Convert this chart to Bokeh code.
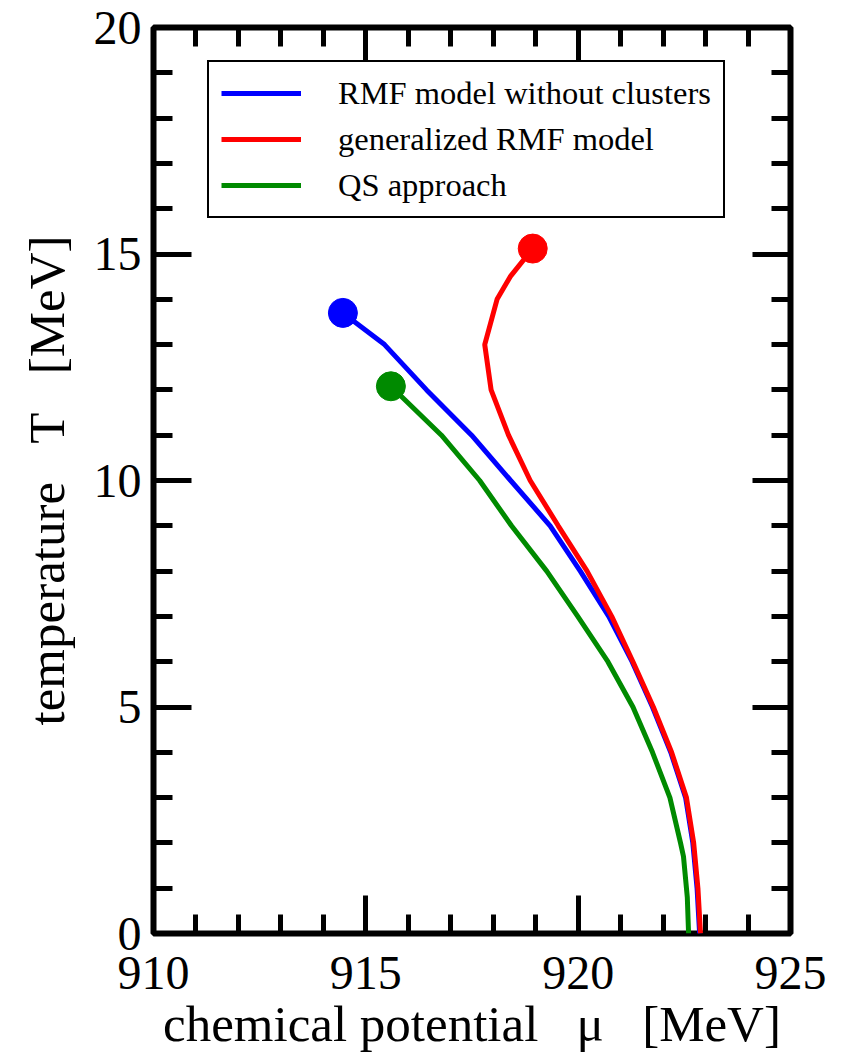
from bokeh.plotting import figure
from bokeh.models import (LinearAxis, SingleIntervalTicker, Range1d, Legend,
                          LegendItem, CustomJSTickFormatter)
from bokeh.embed import file_html
from bokeh.resources import INLINE

# Phase-boundary curves: temperature T [MeV] vs chemical potential mu [MeV]
rmf_T = [0, 1, 2, 3, 4, 5, 6, 7, 8, 9, 10, 11, 12, 13, 13.7]
rmf_mu = [922.86, 922.80, 922.70, 922.53, 922.18, 921.75, 921.27, 920.72,
          920.05, 919.34, 918.41, 917.49, 916.43, 915.44, 914.46]

gen_T = [0, 1, 2, 3, 4, 5, 6, 7, 8, 9, 10, 11, 12, 13, 14, 14.5, 15.12]
gen_mu = [922.88, 922.82, 922.72, 922.55, 922.20, 921.77, 921.29, 920.79,
          920.21, 919.53, 918.87, 918.36, 917.95, 917.80, 918.09, 918.40, 918.93]

qs_T = [0, 0.8, 1.7, 2, 3, 4, 5, 6, 7, 8, 9, 10, 11, 12.08]
qs_mu = [922.60, 922.57, 922.48, 922.41, 922.16, 921.75, 921.29, 920.70,
         919.99, 919.26, 918.43, 917.68, 916.78, 915.59]

series_labels = ["RMF model without clusters", "generalized RMF model", "QS approach"]
series_colors = ["#0000ff", "#ff0000", "#008a00"]

x_ticks_major = 5
y_ticks_major = 5

FONT = "Liberation Serif"
SP = "\u00a0"

p = figure(width=841, height=1058,
           x_range=Range1d(910, 925), y_range=Range1d(0, 20),
           output_backend="svg", toolbar_location=None,
           min_border_left=153, min_border_right=51,
           min_border_top=27, min_border_bottom=125,
           background_fill_color="white", border_fill_color="white")
p.grid.visible = False
p.outline_line_color = "black"
p.outline_line_width = 6
p.outline_line_alpha = 1


def style_ticks(ax, major_len=38, minor_len=19):
    ax.axis_line_color = None
    ax.major_tick_in = major_len
    ax.major_tick_out = 0
    ax.minor_tick_in = minor_len
    ax.minor_tick_out = 0
    ax.major_tick_line_width = 5
    ax.minor_tick_line_width = 5
    ax.major_tick_line_color = "black"
    ax.minor_tick_line_color = "black"


xb = p.xaxis[0]
xb.ticker = SingleIntervalTicker(interval=x_ticks_major, num_minor_ticks=5)
style_ticks(xb)
xb.major_label_text_font = FONT
xb.major_label_text_font_size = "48px"
xb.major_label_text_color = "black"
xb.major_label_standoff = 23
xb.axis_label = "chemical potential" + SP * 3 + "\u03bc" + SP * 3 + "[MeV]"
xb.axis_label_text_font = FONT
xb.axis_label_text_font_size = "51px"
xb.axis_label_text_font_style = "normal"
xb.axis_label_text_color = "black"
xb.axis_label_standoff = 4

yl = p.yaxis[0]
yl.ticker = SingleIntervalTicker(interval=y_ticks_major, num_minor_ticks=5)
style_ticks(yl)
yl.major_label_text_font = FONT
yl.major_label_text_font_size = "48px"
yl.major_label_text_color = "black"
yl.major_label_standoff = 12
yl.axis_label = "temperature" + SP * 3 + "T" + SP * 3 + "[MeV]"
yl.axis_label_text_font = FONT
yl.axis_label_text_font_size = "51px"
yl.axis_label_text_font_style = "normal"
yl.axis_label_text_color = "black"
yl.axis_label_standoff = 16

blank = CustomJSTickFormatter(code="return ''")
xt = LinearAxis(ticker=SingleIntervalTicker(interval=x_ticks_major, num_minor_ticks=5),
                formatter=blank, major_label_text_font_size="0px",
                major_label_standoff=0)
style_ticks(xt)
yr = LinearAxis(ticker=SingleIntervalTicker(interval=y_ticks_major, num_minor_ticks=5),
                formatter=blank, major_label_text_font_size="0px",
                major_label_standoff=0)
style_ticks(yr)
p.add_layout(xt, "above")
p.add_layout(yr, "right")

items = []
for T, mu, lab, col in zip([rmf_T, gen_T, qs_T], [rmf_mu, gen_mu, qs_mu],
                           series_labels, series_colors):
    r = p.line(mu, T, line_color=col, line_width=5)
    p.scatter([mu[-1]], [T[-1]], size=29, fill_color=col, line_color=col)
    items.append(LegendItem(label=lab, renderers=[r]))

legend = Legend(items=items, location=(54, 715),
                label_text_font=FONT, label_text_font_size="32.5px",
                label_text_color="black",
                glyph_width=80, glyph_height=38, label_height=38,
                label_standoff=37, spacing=8, padding=12, margin=0,
                border_line_color="black", border_line_width=2,
                border_line_alpha=1,
                background_fill_color="white", background_fill_alpha=1)
p.add_layout(legend)

open("out.html", "w").write(file_html(p, INLINE))
